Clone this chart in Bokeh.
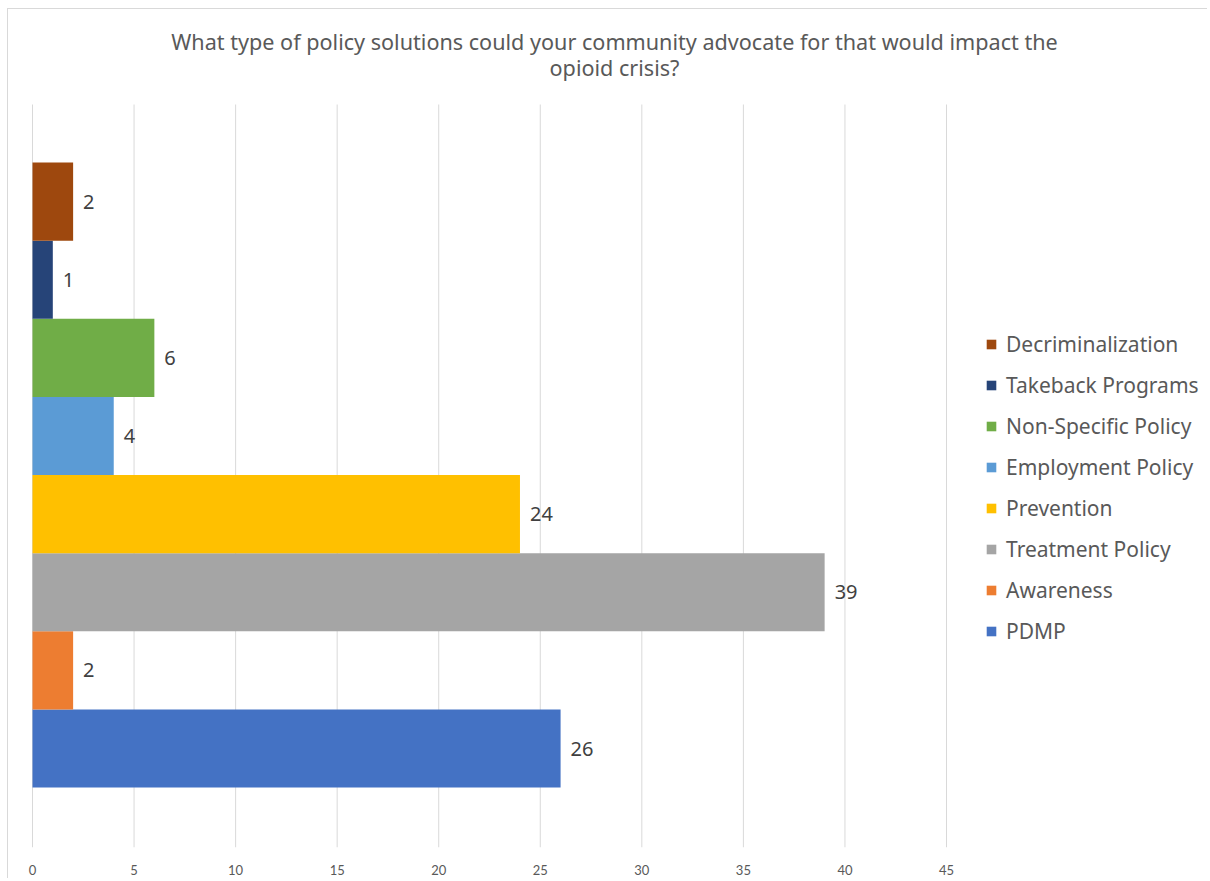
from bokeh.plotting import figure
from bokeh.models import Range1d, Legend, LegendItem, ColumnDataSource, LabelSet, Label, FixedTicker
from bokeh.core.properties import value
from bokeh.embed import file_html
from bokeh.resources import INLINE

# ---- data ----
series = ["PDMP", "Awareness", "Treatment Policy", "Prevention",
          "Employment Policy", "Non-Specific Policy", "Takeback Programs", "Decriminalization"]
values = [26, 2, 39, 24, 4, 6, 1, 2]
colors = ["#4472C4", "#ED7D31", "#A5A5A5", "#FFC000",
          "#5B9BD5", "#70AD47", "#264478", "#9E480E"]
x_ticks = [0, 5, 10, 15, 20, 25, 30, 35, 40, 45]
title_lines = ["What type of policy solutions could your community advocate for that would impact the",
               "opioid crisis?"]

# ---- layout constants (pixels in figure space) ----
W, H = 1200, 870
FB = 838                 # frame bottom (plot area bottom)
X0_PX = 24               # pixel of value 0
PX_PER_X = 914 / 45.0    # 0..45 spans 914 px
BAR_PX = 625 / 8.0       # one bar band height
Y0_PX = 739              # centre of first bar (from top)
GRID_TOP_PX = 95

x_start = -X0_PX / PX_PER_X
x_end = (W - X0_PX) / PX_PER_X
y_start = -(FB - Y0_PX) / BAR_PX
y_end = Y0_PX / BAR_PX
grid_top = (Y0_PX - GRID_TOP_PX) / BAR_PX

p = figure(width=W, height=H, output_backend="svg", toolbar_location=None,
           x_range=Range1d(x_start, x_end), y_range=Range1d(y_start, y_end),
           min_border_left=0, min_border_right=0,
           min_border_top=0, min_border_bottom=H - FB)
p.styles = {"margin-left": "7px", "margin-top": "8px",
            "border-top": "1px solid #d9d9d9", "border-left": "1px solid #d9d9d9"}
p.outline_line_color = None
p.background_fill_color = "white"
p.border_fill_color = "white"
p.xgrid.visible = False
p.ygrid.visible = False

# vertical gridlines at the tick values, only over the plot area
p.segment(x0=x_ticks, x1=x_ticks, y0=[y_start] * len(x_ticks), y1=[grid_top] * len(x_ticks),
          line_color="#d9d9d9", line_width=1)

ypos = list(range(len(series)))
renderers = []
for i, (s, v, c) in enumerate(zip(series, values, colors)):
    r = p.hbar(y=[ypos[i]], right=[v], left=0, height=1.0, fill_color=c, line_color=None)
    renderers.append((s, r))

src = ColumnDataSource(dict(x=values, y=ypos, t=[str(v) for v in values]))
p.add_layout(LabelSet(x="x", y="y", text="t", source=src, x_offset=10,
                      text_baseline="middle", text_align="left",
                      text_font_size=value("20px"), text_color=value("#404040"),
                      text_font=value("Noto Sans")))

p.xaxis.ticker = FixedTicker(ticks=x_ticks)
p.xaxis.axis_line_color = None
p.xaxis.major_tick_line_color = None
p.xaxis.minor_tick_line_color = None
p.xaxis.major_label_text_color = "#595959"
p.xaxis.major_label_text_font = "Lato"
p.xaxis.major_label_text_font_size = "13px"
p.xaxis.major_label_standoff = 11
p.yaxis.visible = False

items = [LegendItem(label=s, renderers=[r]) for s, r in reversed(renderers)]
leg = Legend(items=items, location=(977, 202), orientation="vertical",
             glyph_width=12, glyph_height=12, label_height=20, spacing=13,
             padding=0, margin=0, label_standoff=9,
             label_text_font="Noto Sans", label_text_font_size="21px",
             label_text_color="#595959", border_line_color=None,
             background_fill_alpha=0)
p.add_layout(leg, "center")

for txt, yy in zip(title_lines, [FB - 32, FB - 58]):
    p.add_layout(Label(x=606, y=yy, x_units="screen", y_units="screen", text=txt,
                       text_align="center", text_baseline="middle",
                       text_font="Noto Sans", text_font_size="21.6px", text_color="#595959"))

open("out.html", "w").write(file_html(p, INLINE))
